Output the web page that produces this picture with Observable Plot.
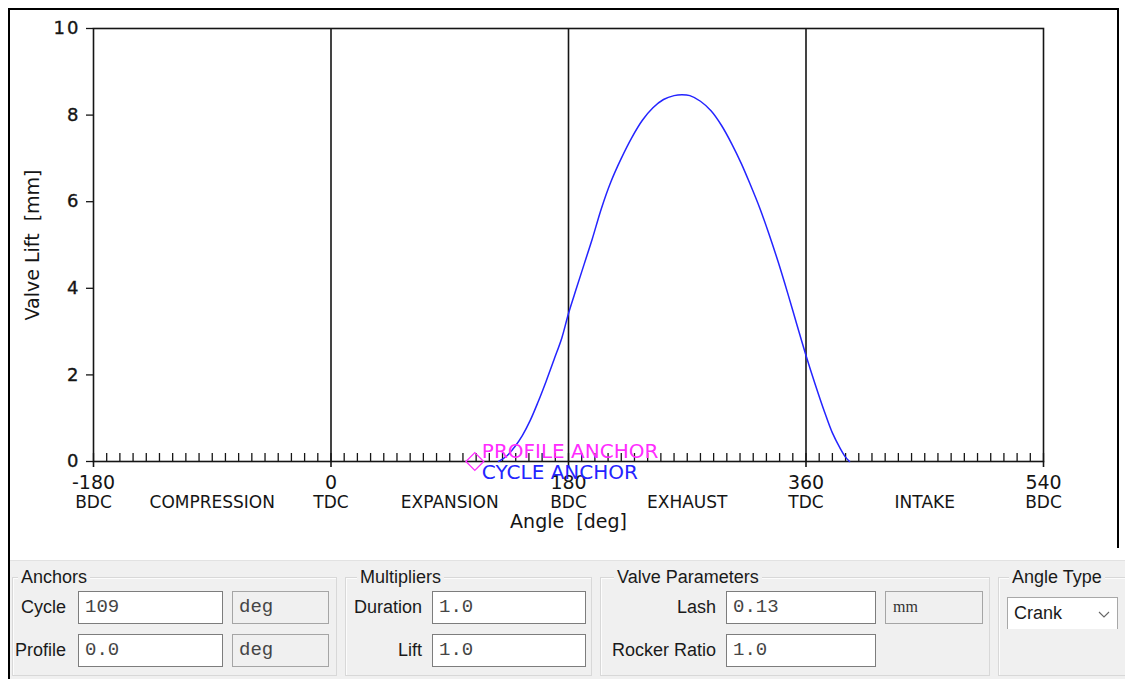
<!DOCTYPE html>
<html>
<head>
<meta charset="utf-8">
<script src="https://cdn.jsdelivr.net/npm/d3@7"></script>
<script src="https://cdn.jsdelivr.net/npm/@observablehq/plot@0.6"></script>
<style>
  html, body { margin: 0; padding: 0; background: #fff; }
  #root { position: relative; width: 1125px; height: 679px; overflow: hidden; background: #fff;
          font-family: "Liberation Sans", Arial, sans-serif; color: #1a1a1a; }
  #chart { position: absolute; left: 0; top: 0; }
  #chart svg text { paint-order: stroke; }
  .bar { position: absolute; background: #000; }
  #panel { position: absolute; left: 10px; top: 560px; width: 1115px; height: 119px;
           background: #f0f0f0; border-top: 1px solid #e2e2e2; box-sizing: border-box; }
  .group { position: absolute; border: 1px solid #d8d8d8; box-shadow: inset 1px 1px 0 #fcfcfc; box-sizing: border-box; }
  .gtitle { position: absolute; height: 20px; line-height: 20px; font-size: 18px; padding: 0 3px;
            background: #f0f0f0; white-space: nowrap; }
  .lbl { position: absolute; height: 22px; line-height: 22px; font-size: 18px; white-space: nowrap; }
  .box { position: absolute; box-sizing: border-box; border: 1px solid #7d7d7d; background: #fff;
         font-family: "Liberation Mono", "Courier New", monospace; font-size: 19px; color: #454545;
         padding-left: 6px; line-height: 30px; white-space: nowrap; }
  .unit { background: #f0f0f0; border-color: #a5a5a5; }
  .serif { font-family: "Liberation Serif", "Times New Roman", serif; font-size: 16px; padding-left: 7px; color: #333; }
  .select { position: absolute; box-sizing: border-box; border: 1px solid #a8a8a8; border-bottom: none; background: #fff;
            font-size: 18px; line-height: 30px; padding-left: 6px; }
</style>
</head>
<body>
<div id="root">
  <div id="chart"></div>
  <div class="bar" style="left:8px;top:8px;width:2px;height:671px"></div>
  <div class="bar" style="left:8px;top:8px;width:1111px;height:2px"></div>
  <div class="bar" style="left:1117px;top:8px;width:2px;height:540px"></div>

  <div id="panel"></div>

  <div class="group" style="left:12px;top:577px;width:325px;height:99px"></div>
  <div class="gtitle" style="left:18px;top:567px">Anchors</div>
  <div class="lbl" style="left:21px;top:596px">Cycle</div>
  <div class="box" style="left:78px;top:591px;width:145px;height:33px">109</div>
  <div class="box unit" style="left:232px;top:591px;width:97px;height:33px">deg</div>
  <div class="lbl" style="left:15px;top:639px">Profile</div>
  <div class="box" style="left:78px;top:634px;width:145px;height:33px">0.0</div>
  <div class="box unit" style="left:232px;top:634px;width:97px;height:33px">deg</div>

  <div class="group" style="left:345px;top:577px;width:247px;height:99px"></div>
  <div class="gtitle" style="left:357px;top:567px">Multipliers</div>
  <div class="lbl" style="left:322px;width:100px;text-align:right;top:596px">Duration</div>
  <div class="box" style="left:432px;top:591px;width:154px;height:33px">1.0</div>
  <div class="lbl" style="left:322px;width:100px;text-align:right;top:639px">Lift</div>
  <div class="box" style="left:432px;top:634px;width:154px;height:33px">1.0</div>

  <div class="group" style="left:600px;top:577px;width:390px;height:99px"></div>
  <div class="gtitle" style="left:614px;top:567px">Valve Parameters</div>
  <div class="lbl" style="left:600px;width:116px;text-align:right;top:596px">Lash</div>
  <div class="box" style="left:726px;top:591px;width:150px;height:33px">0.13</div>
  <div class="box unit serif" style="left:885px;top:591px;width:98px;height:33px">mm</div>
  <div class="lbl" style="left:600px;width:116px;text-align:right;top:639px">Rocker Ratio</div>
  <div class="box" style="left:726px;top:634px;width:150px;height:33px">1.0</div>

  <div class="group" style="left:998px;top:577px;width:135px;height:99px"></div>
  <div class="gtitle" style="left:1009px;top:567px">Angle Type</div>
  <div class="select" style="left:1007px;top:597px;width:111px;height:32px">Crank
    <svg width="12" height="8" style="position:absolute;left:90px;top:13px"><polyline points="1,1 6,6 11,1" fill="none" stroke="#666" stroke-width="1.1"/></svg>
  </div>
</div>
<script>
// ---- data ----
const angleDeg = [127, 133, 139, 145, 151, 157, 163, 169, 175, 180, 186, 192, 198, 205, 212, 220, 228, 236, 244, 252,
                  260, 266, 272, 280, 288, 296, 304, 311, 318, 325, 332, 339, 346, 353, 360, 367, 374, 380, 386, 390, 393];
const liftMm   = [0, 0.12, 0.33, 0.6, 0.95, 1.38, 1.85, 2.35, 2.86, 3.42, 4.0, 4.57, 5.14, 5.85, 6.45, 7.0, 7.48, 7.88, 8.17, 8.36,
                  8.45, 8.47, 8.45, 8.32, 8.1, 7.76, 7.32, 6.88, 6.38, 5.85, 5.25, 4.6, 3.9, 3.17, 2.45, 1.78, 1.15, 0.66, 0.3, 0.1, 0];
const yTicks = [0, 2, 4, 6, 8, 10];
const majorTicks = [-180, 0, 180, 360, 540];
const majorLabels = ["-180", "0", "180", "360", "540"];
const deadCenters = ["BDC", "TDC", "BDC", "TDC", "BDC"];
const strokeBoundaries = [0, 180, 360];
const phaseCenters = [-90, 90, 270, 450];
const phaseNames = ["COMPRESSION", "EXPANSION", "EXHAUST", "INTAKE"];
const minorTicks = d3.range(-180, 541, 10);
const cycleAnchor = [109];
const anchorLift = 0;
const xTitle = "Angle  [deg]";
const yTitle = "Valve Lift  [mm]";

const profile = angleDeg.map((a, i) => ({angle: a, lift: liftMm[i]}));
const ink = "#151515";

const chart = Plot.plot({
  width: 1125,
  height: 555,
  marginLeft: 93,
  marginRight: 82,
  marginTop: 28,
  marginBottom: 94,
  style: {fontFamily: "DejaVu Sans", fontSize: "16px", color: ink, background: "none", overflow: "visible"},
  x: {domain: [-180, 540], axis: null},
  y: {domain: [0, 10]},
  marks: [
    Plot.ruleX(strokeBoundaries, {stroke: ink, strokeWidth: 1.6}),
    Plot.frame({stroke: ink, strokeWidth: 1.6}),
    Plot.tickX(minorTicks, {stroke: ink, strokeWidth: 1.3, insetTop: 425}),
    Plot.tickX(majorTicks, {stroke: ink, strokeWidth: 1.6, insetTop: 433, insetBottom: -6}),
    Plot.axisY(yTicks, {tickSize: 7, tickPadding: 6, fontSize: 18, label: null, stroke: ink, strokeWidth: 1.3}),
    Plot.text(majorTicks, {x: d => d, text: (d, i) => majorLabels[i], frameAnchor: "bottom", lineAnchor: "middle", dy: 21, fontSize: 19, ariaLabel: "major-labels"}),
    Plot.text(majorTicks, {x: d => d, text: (d, i) => deadCenters[i], frameAnchor: "bottom", lineAnchor: "middle", dy: 41, fontSize: 17, ariaLabel: "dead-centers"}),
    Plot.text(phaseCenters, {x: d => d, text: (d, i) => phaseNames[i], frameAnchor: "bottom", lineAnchor: "middle", dy: 41, fontSize: 17, ariaLabel: "phases"}),
    Plot.text([xTitle], {frameAnchor: "bottom", lineAnchor: "middle", dy: 60, fontSize: 19, ariaLabel: "x-title"}),
    Plot.text([yTitle], {frameAnchor: "left", textAnchor: "middle", lineAnchor: "middle", dx: -61, rotate: -90, fontSize: 19, ariaLabel: "y-title"}),
    Plot.line(profile, {x: "angle", y: "lift", stroke: "#2424ff", strokeWidth: 1.5, curve: "catmull-rom"}),
    Plot.dot(cycleAnchor, {x: d => d, y: () => anchorLift, symbol: "diamond2", r: 8, stroke: "#ff2cff", strokeWidth: 1.3, fill: "none"}),
    Plot.text(cycleAnchor, {x: d => d, y: () => anchorLift, text: () => "PROFILE ANCHOR", textAnchor: "start", lineAnchor: "bottom", dx: 7, dy: -4, fontSize: 20, fill: "#ff2cff", ariaLabel: "anchor-label"}),
    Plot.text(cycleAnchor, {x: d => d, y: () => anchorLift, text: () => "CYCLE ANCHOR", textAnchor: "start", lineAnchor: "bottom", dx: 7, dy: 17, fontSize: 20, fill: "#2424ff", ariaLabel: "anchor-label"})
  ]
});

document.getElementById("chart").appendChild(chart);
const svg = d3.select(chart);
svg.selectAll("g[aria-label='major-labels'] text").style("letter-spacing", "3.2px").style("stroke", ink).style("stroke-width", "0.35px");
svg.selectAll("g[aria-label='y-axis tick label'] text").style("letter-spacing", "2px").style("stroke", ink).style("stroke-width", "0.35px");
svg.selectAll("g[aria-label='dead-centers'] text, g[aria-label='phases'] text").style("letter-spacing", "1.8px").style("stroke", ink).style("stroke-width", "0.3px");
svg.selectAll("g[aria-label='anchor-label'] text").style("letter-spacing", "2.8px");
svg.selectAll("g[aria-label='x-title'] text, g[aria-label='y-title'] text").style("letter-spacing", "1.2px").style("stroke", ink).style("stroke-width", "0.3px");
</script>
</body>
</html>
